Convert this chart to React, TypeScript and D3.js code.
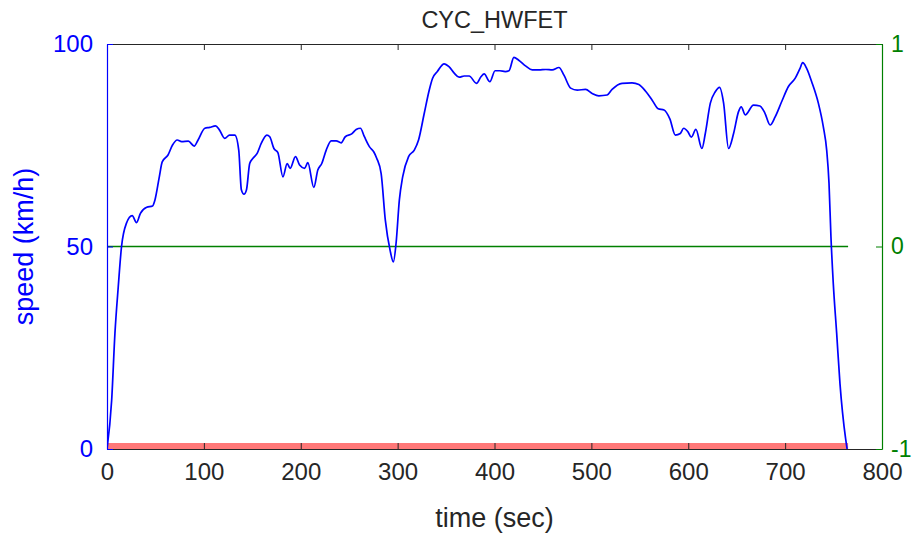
import { useEffect, useRef } from 'react';
import * as d3 from 'd3';

// speed trace: [time (s), speed (km/h)]
const speedTrace: [number, number][] = [
  [0, 0], [4.8, 12], [8.2, 28.6], [11.6, 40], [15, 50], [20, 55.7], [26, 57.6], [30.5, 55.9],
  [34.5, 58.2], [41, 59.7], [47, 60], [49.5, 61.5], [54, 67.2], [57, 70.9], [63, 72.6], [67.5, 75],
  [72.5, 76.3], [77, 75.9], [84, 76], [90, 74.8], [94, 76.3], [101, 79.2], [106, 79.4], [112, 79.8],
  [116, 78.8], [121.5, 76.7], [126.5, 77.5], [132, 77.5], [136, 73.8], [138.7, 64], [141.4, 62.9],
  [144, 64], [147.3, 70.5], [150.7, 71.8], [155, 73], [159.3, 75.5], [165, 77.5], [168, 77.1],
  [172.3, 74.2], [176.4, 73.2], [181.6, 67.2], [186, 70.5], [189, 69.3], [194.6, 72.2], [198.8, 70.1],
  [204, 69.3], [207.3, 70.7], [213.5, 64.6], [217.6, 68.9], [221.7, 70.5], [226.3, 73.8], [231.4, 76.1],
  [236.6, 76.1], [241.7, 75.6], [246, 77.1], [252.6, 77.8], [257.2, 78.9], [261.6, 79.2], [265.7, 77.1],
  [271, 74.6], [275.3, 73.4], [278.4, 71.8], [283, 68], [287.3, 56.5], [292.2, 49.1], [295.6, 46.2],
  [298.4, 50.8], [301.8, 61.5], [305.2, 67.2], [311.3, 72.2], [317.2, 73.8], [321.6, 76.3], [327.5, 82.9],
  [332.6, 88.6], [336, 91.5], [341, 93.2], [348, 95.1], [353, 94.4], [358.4, 92.8], [363.5, 91.8],
  [368.7, 92.1], [373.8, 92.1], [381.4, 90.3], [386, 91.9], [389.3, 92.6], [395.2, 90.7], [400.6, 93.4],
  [405.5, 93.4], [411, 93.2], [415, 93.4], [420, 96.7], [425, 96], [432, 94.6], [439, 93.6], [446, 93.6],
  [453, 93.7], [459.6, 93.6], [466.5, 94.2], [471.7, 92.3], [478.6, 89.1], [485.4, 88.6], [494, 88.8],
  [500.8, 87.8], [507.7, 87.2], [516.3, 87.4], [521.4, 88.8], [531.7, 90.3], [542, 90.4], [549, 90],
  [555.8, 88.4], [562.6, 86.2], [569, 84], [575, 83.7], [581, 81.5], [586.7, 77.5], [591.8, 77.9],
  [595.3, 79.2], [599.7, 78.3], [603.2, 77], [607.9, 78.9], [614.1, 74.2], [617.6, 77.9], [622.8, 85.4],
  [627.9, 88.2], [632.3, 89.3], [636.5, 85.4], [641.6, 74.2], [646.8, 77.9], [651.9, 83.3], [654.7, 84.5],
  [658.8, 82.5], [667.4, 84.9], [674, 84.7], [679, 83], [684.5, 80], [689.7, 82], [696.5, 85.8],
  [703.4, 89.5], [710.3, 91.5], [715.4, 94], [718.1, 95.4], [722.2, 94], [727.4, 90.7], [734.3, 85.4],
  [739.4, 79.6], [742.9, 73.8], [745.3, 65.6], [747.3, 52.4], [749.7, 40.9], [753.2, 28.6], [756.6, 16.2],
  [762.4, 2.6], [764, 0],
];

// flat reference lines spanning the cycle
const cycleSpan = [0, 765];
const greenLevel = 0; // right axis
const redLevel = 0; // left axis

const xTicks = [0, 100, 200, 300, 400, 500, 600, 700, 800];
const leftTicks = [0, 50, 100];
const rightTicks = [-1, 0, 1];

const title = 'CYC_HWFET';
const xLabel = 'time (sec)';
const yLabel = 'speed (km/h)';

const W = 912;
const H = 535;
const margin = { top: 44, right: 30, bottom: 86, left: 107 };
const BLUE = '#0000ff';
const GREEN = '#008000';
const AXIS = '#262626';
const FONT = '"Liberation Sans", Arial, Helvetica, sans-serif';

export default function App() {
  const ref = useRef<SVGSVGElement>(null);

  useEffect(() => {
    const svg = d3.select(ref.current);
    svg.selectAll('*').remove();

    const x0 = margin.left;
    const x1 = W - margin.right;
    const y0 = H - margin.bottom;
    const y1 = margin.top;

    const x = d3.scaleLinear().domain([0, 800]).range([x0, x1]);
    const yL = d3.scaleLinear().domain([0, 100]).range([y0, y1]);
    const yR = d3.scaleLinear().domain([-1, 1]).range([y0, y1]);

    svg.append('defs').append('clipPath').attr('id', 'plotclip')
      .append('rect').attr('x', x0).attr('y', y1).attr('width', x1 - x0).attr('height', y0 - y1);

    const plot = svg.append('g').attr('clip-path', 'url(#plotclip)');

    // red line on the left axis zero
    plot.append('line')
      .attr('x1', x(cycleSpan[0])).attr('x2', x(cycleSpan[1]))
      .attr('y1', yL(redLevel)).attr('y2', yL(redLevel))
      .attr('stroke', '#ff7878').attr('stroke-width', 12);

    // green line on the right axis zero
    plot.append('line')
      .attr('x1', x(cycleSpan[0])).attr('x2', x(cycleSpan[1]))
      .attr('y1', yR(greenLevel)).attr('y2', yR(greenLevel))
      .attr('stroke', GREEN).attr('stroke-width', 1.5);

    const line = d3.line<[number, number]>()
      .x(d => x(d[0]))
      .y(d => yL(d[1]))
      .curve(d3.curveMonotoneX);

    plot.append('path')
      .datum(speedTrace)
      .attr('d', line)
      .attr('fill', 'none')
      .attr('stroke', BLUE)
      .attr('stroke-width', 1.7)
      .attr('stroke-linejoin', 'round');

    // bottom axis
    const bottom = svg.append('g').attr('transform', `translate(0,${y0})`)
      .call(d3.axisBottom(x).tickValues(xTicks).tickSizeInner(-6).tickSizeOuter(0).tickPadding(14));
    bottom.select('.domain').attr('stroke', AXIS).attr('stroke-width', 1.2);
    bottom.selectAll('line').attr('stroke', AXIS);
    bottom.selectAll('text').attr('fill', AXIS).attr('font-size', 24).attr('font-family', FONT);

    // top axis (ticks only)
    const top = svg.append('g').attr('transform', `translate(0,${y1})`)
      .call(d3.axisTop(x).tickValues(xTicks).tickSizeInner(-6).tickSizeOuter(0).tickFormat(() => ''));
    top.select('.domain').attr('stroke', AXIS).attr('stroke-width', 1.2);
    top.selectAll('line').attr('stroke', AXIS);

    // left axis
    const left = svg.append('g').attr('transform', `translate(${x0},0)`)
      .call(d3.axisLeft(yL).tickValues(leftTicks).tickSizeInner(-6).tickSizeOuter(0).tickPadding(14));
    left.select('.domain').attr('stroke', BLUE).attr('stroke-width', 1.2);
    left.selectAll('line').attr('stroke', BLUE);
    left.selectAll('text').attr('fill', BLUE).attr('font-size', 24).attr('font-family', FONT);

    // right axis
    const right = svg.append('g').attr('transform', `translate(${x1},0)`)
      .call(d3.axisRight(yR).tickValues(rightTicks).tickFormat(d => String(d))
        .tickSizeInner(-6).tickSizeOuter(0).tickPadding(9));
    right.select('.domain').attr('stroke', GREEN).attr('stroke-width', 1.2);
    right.selectAll('line').attr('stroke', GREEN);
    right.selectAll('text').attr('fill', GREEN).attr('font-size', 23).attr('font-family', FONT);

    svg.append('text')
      .attr('x', (x0 + x1) / 2).attr('y', 28)
      .attr('text-anchor', 'middle')
      .attr('font-family', FONT).attr('font-size', 23.5).attr('fill', AXIS)
      .text(title);

    svg.append('text')
      .attr('x', (x0 + x1) / 2).attr('y', 527)
      .attr('text-anchor', 'middle')
      .attr('font-family', FONT).attr('font-size', 27).attr('fill', AXIS)
      .text(xLabel);

    svg.append('text')
      .attr('transform', `translate(33,${(y0 + y1) / 2}) rotate(-90)`)
      .attr('text-anchor', 'middle')
      .attr('font-family', FONT).attr('font-size', 27).attr('fill', BLUE)
      .text(yLabel);
  }, []);

  return (
    <svg ref={ref} width={W} height={H}
      style={{ position: 'absolute', left: 0, top: 0, background: '#fff' }} />
  );
}
